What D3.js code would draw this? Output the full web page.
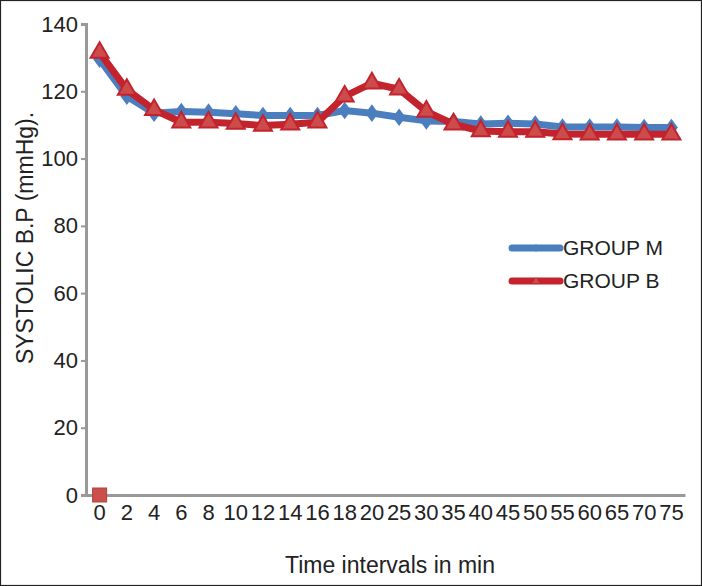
<!DOCTYPE html>
<html>
<head>
<meta charset="utf-8">
<script src="https://cdn.jsdelivr.net/npm/d3@7"></script>
<style>
  body { margin: 0; background: #fff; }
  svg { display: block; font-family: "Liberation Sans", Arial, sans-serif; }
</style>
</head>
<body>
<svg id="chart" width="702" height="586"></svg>
<script>
const categories = ["0","2","4","6","8","10","12","14","16","18","20","25","30","35","40","45","50","55","60","65","70","75"];
const groupM = [129.5,118.5,113.5,114,113.8,113.3,112.8,112.8,112.8,114.3,113.5,112.3,111.2,111,110.3,110.5,110.3,109.4,109.4,109.4,109.2,109.2];
const groupB = [131.5,120.5,114.5,110.8,110.8,110.4,109.8,110.2,110.8,118.5,122.4,120.6,114,110.2,108.2,108,108,107.3,107.2,107.2,107.2,107.2];
const series3 = [0];
const yTicks = [0,20,40,60,80,100,120,140];

(function(){
const svg = d3.select("#chart");
const W = 702, H = 586;
svg.append("rect").attr("x",0.5).attr("y",0.5).attr("width",W-1).attr("height",H-1)
  .attr("fill","#fff").attr("stroke","#222").attr("stroke-width",1.2);

const mLeft = 86, mRight = 685, mTop = 24, mBottom = 495;
const x = d3.scaleBand().domain(categories).range([mLeft, mRight]).paddingInner(0).paddingOuter(0);
const y = d3.scaleLinear().domain([0,140]).range([mBottom, mTop]);
const cx = c => x(c) + x.bandwidth()/2;
const font = "Liberation Sans, Arial, sans-serif";

// Y axis
const yAxis = d3.axisLeft(y).tickValues(yTicks).tickSize(5).tickPadding(3);
const gy = svg.append("g").attr("transform",`translate(${mLeft},0)`).call(yAxis);
gy.select(".domain").attr("stroke","#999").attr("stroke-width",3);
gy.selectAll(".tick line").attr("stroke","#999").attr("stroke-width",2);
gy.selectAll(".tick text").attr("font-size",22).attr("fill","#222").attr("font-family",font);

// X axis
const xAxis = d3.axisBottom(x).tickSize(0).tickPadding(9);
const gx = svg.append("g").attr("transform",`translate(0,${mBottom})`).call(xAxis);
gx.select(".domain").attr("stroke","#999").attr("stroke-width",3);
gx.selectAll(".tick text").attr("font-size",22).attr("fill","#222").attr("font-family",font);

// Axis titles
svg.append("text").attr("x",390).attr("y",573).attr("text-anchor","middle")
  .attr("font-size",23).attr("fill","#222").attr("font-family",font).text("Time intervals in min");
svg.append("text").attr("transform","translate(33,238) rotate(-90)").attr("text-anchor","middle")
  .attr("font-size",23).attr("fill","#222").attr("font-family",font).text("SYSTOLIC B.P (mmHg).");

const blue = "#4a7ebf", red = "#c3232d", redFill = "#cc4b4b";
const line = d3.line().x((d,i)=>cx(categories[i])).y(d=>y(d));

// Group M
svg.append("path").datum(groupM).attr("d",line).attr("fill","none")
  .attr("stroke",blue).attr("stroke-width",7).attr("stroke-linejoin","round");
svg.append("g").selectAll("path").data(groupM).join("path")
  .attr("transform",(d,i)=>`translate(${cx(categories[i])},${y(d)}) scale(1.15,0.9)`)
  .attr("d",d3.symbol(d3.symbolDiamond,110)).attr("fill",blue);

// Group B
svg.append("path").datum(groupB).attr("d",line).attr("fill","none")
  .attr("stroke",red).attr("stroke-width",7).attr("stroke-linejoin","round");
svg.append("g").selectAll("path").data(groupB).join("path")
  .attr("transform",(d,i)=>`translate(${cx(categories[i])},${y(d)})`)
  .attr("d",d3.symbol(d3.symbolTriangle,140)).attr("fill",redFill)
  .attr("stroke",red).attr("stroke-width",2);

// Third series marker (square at 0)
svg.append("g").selectAll("rect").data(series3).join("rect")
  .attr("x",(d,i)=>cx(categories[i])-7).attr("y",d=>y(d)-7)
  .attr("width",14).attr("height",14).attr("fill","#c9504d").attr("stroke","#b8403d").attr("stroke-width",1);

// Legend
const legend = [{name:"GROUP M", color:blue, sym:d3.symbolDiamond},{name:"GROUP B", color:red, sym:d3.symbolTriangle}];
const lg = svg.append("g").selectAll("g").data(legend).join("g")
  .attr("transform",(d,i)=>`translate(512,${248 + i*33})`);
lg.append("line").attr("x1",0).attr("x2",48).attr("y1",0).attr("y2",0)
  .attr("stroke",d=>d.color).attr("stroke-width",7).attr("stroke-linecap","round");
lg.append("path").attr("transform","translate(24,0)").attr("d",d=>d3.symbol(d.sym,20)())
  .attr("fill",(d,i)=> i===0 ? blue : redFill);
lg.append("text").attr("x",51).attr("y",0).attr("dy","0.35em").attr("font-size",21)
  .attr("fill","#222").attr("font-family",font).text(d=>d.name);
})();
</script>
</body>
</html>
